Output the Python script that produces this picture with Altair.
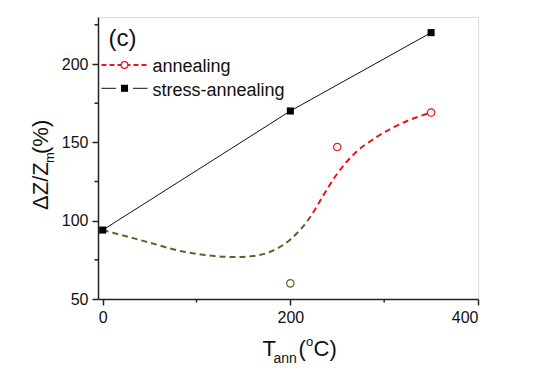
import altair as alt
import pandas as pd

# data
stress_x = [0, 200, 350]
stress_y = [94, 170, 220]
anneal_x = [200, 250, 350]
anneal_y = [60, 147, 169]
anneal_color = ["lo", "hi", "hi"]
curve_x = [0, 25, 50, 80, 110, 140, 160, 180, 200, 222, 236, 250, 267, 291, 326, 350]
curve_y = [94, 90, 86, 81, 78, 76.8, 77.4, 80.5, 88, 103, 117, 130, 142, 153, 164, 169]
split_x = 222
x_ticks = [0, 200, 400]
x_minor = [100, 300]
y_ticks = [50, 100, 150, 200]
y_minor = [75, 125, 175, 225]

W, H = 380, 282
BROWN = "#6b5a2a"
RED = "#e8141e"
FONT = "Liberation Sans"

xs = alt.Scale(domain=[-5, 400], nice=False, zero=False)
ys = alt.Scale(domain=[50, 230], nice=False, zero=False)

xax = alt.Axis(values=x_ticks, title=None, labelFontSize=16, labelFont=FONT, labelColor="#111",
               tickSize=6, tickWidth=1.5, tickColor="#222", domainColor="#222", domainWidth=1.5,
               grid=False, labelPadding=4)
yax = alt.Axis(values=y_ticks, title=None, labelFontSize=16, labelFont=FONT, labelColor="#111",
               tickSize=6, tickWidth=1.5, tickColor="#222", domainColor="#222", domainWidth=1.5,
               grid=False, labelPadding=4)

curve_df = pd.DataFrame({"x": curve_x, "y": curve_y})
f = (split_x - min(curve_x)) / (max(curve_x) - min(curve_x))
grad = alt.Gradient(gradient="linear", x1=0, x2=1, y1=0, y2=0,
                    stops=[alt.GradientStop(offset=0, color=BROWN),
                           alt.GradientStop(offset=f, color=BROWN),
                           alt.GradientStop(offset=min(f + 0.002, 1), color=RED),
                           alt.GradientStop(offset=1, color=RED)])

curve = alt.Chart(curve_df).mark_line(strokeDash=[6, 4], strokeWidth=2, interpolate="monotone",
                                      color=grad).encode(
    x=alt.X("x:Q", scale=xs, axis=xax),
    y=alt.Y("y:Q", scale=ys, axis=yax),
)

col_scale = alt.Scale(domain=["lo", "hi"], range=[BROWN, RED])

stress_df = pd.DataFrame({"x": stress_x, "y": stress_y})
stress_line = alt.Chart(stress_df).mark_line(color="#111", strokeWidth=1).encode(
    x=alt.X("x:Q", scale=xs), y=alt.Y("y:Q", scale=ys))
stress_pts = alt.Chart(stress_df).mark_square(color="#000", size=50, opacity=1, filled=True).encode(
    x=alt.X("x:Q", scale=xs), y=alt.Y("y:Q", scale=ys))

anneal_df = pd.DataFrame({"x": anneal_x, "y": anneal_y, "c": anneal_color})
anneal_pts = alt.Chart(anneal_df).mark_point(shape="circle", size=55, strokeWidth=1.2, filled=False, opacity=1).encode(
    x=alt.X("x:Q", scale=xs), y=alt.Y("y:Q", scale=ys),
    color=alt.Color("c:N", scale=col_scale, legend=None))

xminor_df = pd.DataFrame({"x": x_minor})
xminor = alt.Chart(xminor_df).mark_rule(color="#222", strokeWidth=1.5).encode(
    x=alt.X("x:Q", scale=xs), y=alt.value(H), y2=alt.value(H + 3.5))
yminor_df = pd.DataFrame({"y": y_minor})
yminor = alt.Chart(yminor_df).mark_rule(color="#222", strokeWidth=1.5).encode(
    y=alt.Y("y:Q", scale=ys), x=alt.value(0), x2=alt.value(-3.5))

one = pd.DataFrame({"a": [0]})


def txt(s, x, y, size, angle=0, align="left", color="#111", baseline="alphabetic"):
    return alt.Chart(one).mark_text(text=s, fontSize=size, font=FONT, align=align, baseline=baseline,
                                    angle=angle, color=color).encode(x=alt.value(x), y=alt.value(y))


def seg(x1, x2, y, color, dash=None, width=1.5):
    kw = dict(color=color, strokeWidth=width)
    if dash:
        kw["strokeDash"] = dash
    return alt.Chart(one).mark_rule(**kw).encode(x=alt.value(x1), x2=alt.value(x2), y=alt.value(y))


texts = [
    # y title
    txt("ΔZ/Z", -50.5, 193, 22, angle=270),
    txt("m", -44.5, 146, 13, angle=270),
    txt("(%)", -50.5, 137, 22, angle=270),
    # x title
    txt("T", 164.5, 339, 22),
    txt("ann", 175.5, 345.5, 14),
    txt("(", 200.5, 339, 22),
    txt("o", 208, 329, 13),
    txt("C)", 215.5, 339, 22),
    # panel label
    txt("(c)", 10.5, 29, 24),
    # legend
    txt("annealing", 54.5, 55, 18),
    txt("stress-annealing", 54.5, 78.5, 18),
]

leg = [
    seg(3.5, 49.5, 48, RED, dash=[5, 3], width=2),
    seg(3.5, 18, 71.3, "#111", width=1),
    seg(35, 49.5, 71.3, "#111", width=1),
    alt.Chart(one).mark_point(shape="circle", size=45, filled=True, fill="white", stroke=RED, strokeWidth=1.2, opacity=1)
    .encode(x=alt.value(26.5), y=alt.value(48)),
    alt.Chart(one).mark_square(size=50, color="#000", opacity=1).encode(x=alt.value(26.5), y=alt.value(71.3)),
]

chart = alt.layer(curve, stress_line, anneal_pts, stress_pts, xminor, yminor, *texts, *leg).properties(
    width=W, height=H,
    autosize=alt.AutoSizeParams(type="none"),
    padding={"left": 90, "top": 9, "right": 60, "bottom": 80},
).configure_view(stroke="#222", strokeWidth=1.5).configure(background="white")

chart.save("out.html", embed_options={"renderer": "svg", "actions": False})
